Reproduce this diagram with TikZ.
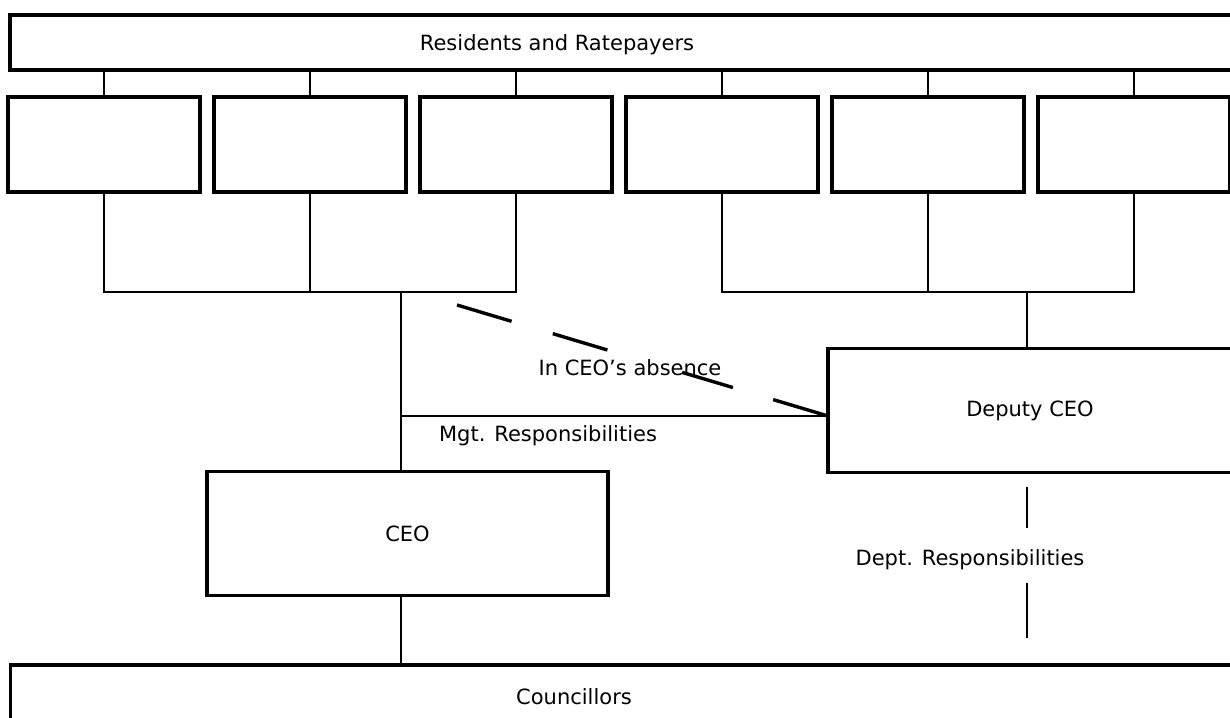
\documentclass[tikz,border=0pt]{standalone}
\usepackage{fontspec}
\setmainfont{DejaVu Sans}
\usetikzlibrary{calc,positioning}
\tikzset{
	org chart/.style={
		x=0.5pt, y=-0.5pt,
		line width=1.1pt,
		every node/.style={font=\fontsize{10.5}{12}\selectfont, inner sep=0pt, outer sep=0pt}
		},
	unit box/.style={draw, line width=1.6pt, minimum width=96pt, minimum height=47.5pt},
	wide bar/.style={draw, line width=1.6pt, minimum width=620pt, minimum height=#1},
	wide bar/.default=27.5pt,
	post box/.style={draw, line width=1.6pt, minimum width=#1, minimum height=62pt},
	absence dash/.style={line width=1.7pt,
		dash pattern=on 28.5pt off 21.5pt on 28.5pt off 39pt on 26.5pt off 21pt on 30pt off 10pt},
	dept dash/.style={dash pattern=on 0pt off 7pt on 20.5pt off 27.5pt on 27.5pt off 20pt}
}

\begin{document}
\begin{tikzpicture}[org chart]
  \useasboundingbox (0,0) rectangle (1230,717);
  \clip (0,0) rectangle (1230,717);
  % bars and boxes
  \node[wide bar] (res) at (630,42.5) {};
  \node at (557,45) {Residents and Ratepayers};
  \node[unit box] (b1) at (104,144.5) {};
  \foreach \i [count=\j from 1] in {2,...,6}
    \node[unit box, right=7pt of b\j] (b\i) {};
  \node[post box=200.5pt] (ceo) at (407.5,533.5) {CEO};
  \node[post box=202pt] (dep) at (1030,410.5) {Deputy CEO};
  \node[wide bar=47.5pt] (cou) at (630.5,712.5) {};
  \node at (574,697) {Councillors};
  % joints
  \coordinate (jl) at (401,292);
  \coordinate (jr) at (1027,292);
  \coordinate (mgt) at (401,416);
  \coordinate (abs) at (457,305);
  % lines
  \foreach \i in {1,...,6}
    \draw (b\i.north) -- (b\i.north |- res.south);
  \draw (b1.south) |- (b3.south |- jl) -- (b3.south);
  \draw (b2.south) -- (b2.south |- jl);
  \draw (b4.south) |- (b6.south |- jr) -- (b6.south);
  \draw (b5.south) -- (b5.south |- jr);
  \draw (jl) -- (jl |- ceo.north);
  \draw (jr) -- (jr |- dep.north);
  \draw (mgt) -- (mgt -| dep.west);
  \draw[absence dash] (abs) -- (mgt -| dep.west);
  \draw (ceo.south -| jl) -- (jl |- cou.north);
  \draw[dept dash] (dep.south -| jr) -- (jr |- cou.north);
  % labels
  \node at (630,368) {In CEO's absence};
  \node at (548,436) {Mgt. Responsibilities};
  \node at (970,560) {Dept. Responsibilities};
\end{tikzpicture}
\end{document}
